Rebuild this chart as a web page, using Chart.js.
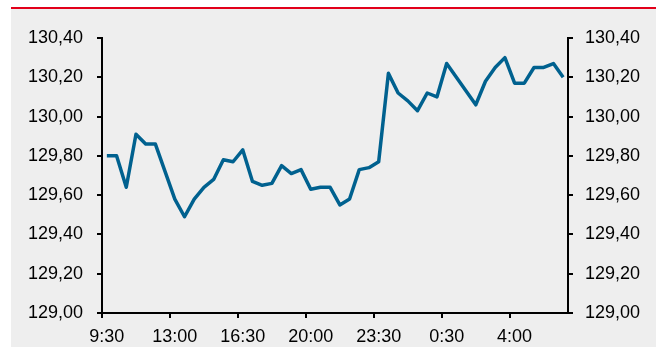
<!DOCTYPE html>
<html>
<head>
<meta charset="utf-8">
<script src="https://cdn.jsdelivr.net/npm/chart.js@4/dist/chart.umd.min.js"></script>
<style>
  body { margin: 0; background: #fff; }
  #redBar { position: absolute; left: 11px; top: 7px; width: 645px; height: 2px; background: #e2001a; }
  #box { position: absolute; left: 11px; top: 9px; width: 645px; height: 338px; background: #eeeeee; }
</style>
</head>
<body>
<div id="redBar"></div>
<div id="box"><canvas id="priceChart" width="645" height="338"></canvas></div>
<script>
// tick labels, one every 7 points
const tickLabels = ['9:30', '13:00', '16:30', '20:00', '23:30', '0:30', '4:00'];
const tickEvery = 7;

// price readings
const prices = [
  129.80, 129.80, 129.64, 129.91, 129.86, 129.86, 129.72, 129.58,
  129.49, 129.58, 129.64, 129.68, 129.78, 129.77, 129.83, 129.67,
  129.65, 129.66, 129.75, 129.71, 129.73, 129.63, 129.64, 129.64,
  129.55, 129.58, 129.73, 129.74, 129.77, 130.22, 130.12, 130.08,
  130.03, 130.12, 130.10, 130.27, 130.20, 130.13, 130.06, 130.18,
  130.25, 130.30, 130.17, 130.17, 130.25, 130.25, 130.27, 130.20
];

const yMin = 129.0, yMax = 130.4, yStep = 0.2;

// one category per point, labelled only at every 7th
const categories = prices.map((p, i) => i % tickEvery === 0 ? tickLabels[i / tickEvery] : '');

Chart.defaults.font.family = "'Liberation Sans', Arial, sans-serif";
Chart.defaults.font.size = 18;
Chart.defaults.color = '#000';

const fmt = v => Number(v).toFixed(2).replace('.', ',');

const yAxis = (pos, pad, w) => ({
  position: pos,
  min: yMin,
  max: yMax,
  ticks: { stepSize: yStep, padding: pad, callback: fmt, color: '#000' },
  grid: { drawOnChartArea: false, color: '#000', lineWidth: 2, tickLength: 5 },
  border: { display: true, color: '#000', width: 2 },
  afterFit: s => { s.width = w; }
});

new Chart(document.getElementById('priceChart'), {
  type: 'line',
  data: {
    labels: categories,
    datasets: [{
      data: prices,
      borderColor: '#00618f',
      borderWidth: 3.5,
      pointRadius: 0,
      tension: 0,
      borderJoinStyle: 'round'
    }]
  },
  options: {
    responsive: false,
    animation: false,
    layout: { padding: { top: 29 } },
    plugins: { legend: { display: false }, tooltip: { enabled: false } },
    scales: {
      x: {
        offset: true,
        ticks: { autoSkip: false, maxRotation: 0, padding: 8, color: '#000' },
        grid: {
          offset: true,
          drawOnChartArea: false,
          color: c => c.index % tickEvery === 0 ? '#000' : 'rgba(0,0,0,0)',
          lineWidth: 2,
          tickLength: 5
        },
        border: { display: true, color: '#000', width: 2 },
        afterFit: s => { s.height = 34; }
      },
      y: yAxis('left', 14, 91),
      y2: yAxis('right', 12, 88)
    }
  }
});
</script>
</body>
</html>
